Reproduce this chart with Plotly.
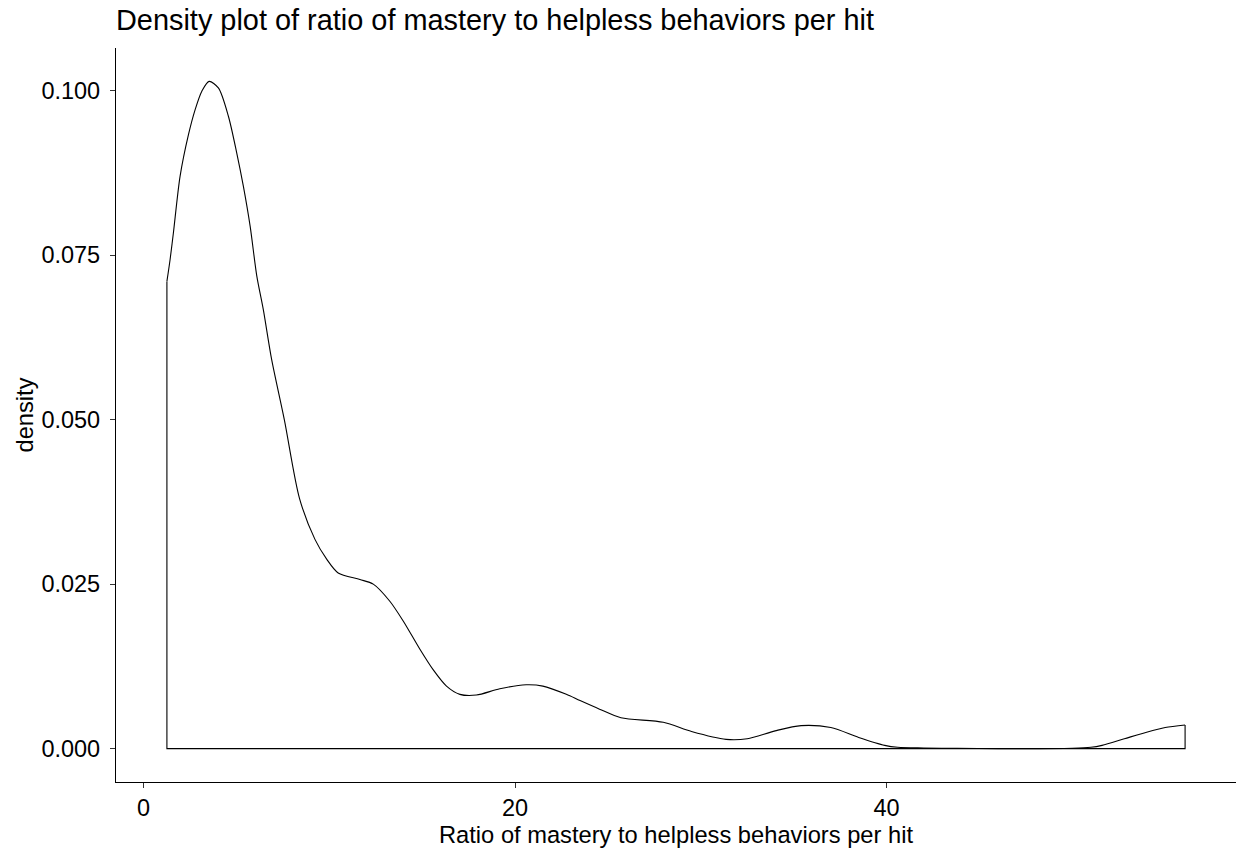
import plotly.graph_objects as go

# Density curve values
ratio = [1.26, 1.43, 1.61, 1.97, 2.42, 2.78, 3.14, 3.53, 4.03, 4.57, 5.02, 5.38, 5.74,
         6.10, 6.45, 6.90, 7.58, 8.40, 9.23, 9.86, 10.48, 11.65, 12.37, 13.26, 13.98,
         14.88, 15.59, 16.31, 17.03, 17.92, 19.18, 20.60, 21.50, 22.76, 23.50, 24.55,
         25.70, 27.98, 29.50, 31.36, 32.50, 34.00, 35.40, 37.00, 38.50, 39.90, 40.60,
         42.00, 43.80, 46.00, 48.00, 50.00, 51.00, 51.60, 52.80, 54.00, 55.00, 56.07]
density = [0.0710, 0.0743, 0.0784, 0.0870, 0.0933, 0.0971, 0.0999, 0.1014, 0.1004,
           0.0961, 0.0905, 0.0854, 0.0794, 0.0718, 0.0667, 0.0591, 0.0500, 0.0380,
           0.0318, 0.0288, 0.0267, 0.0257, 0.0250, 0.0224, 0.0194, 0.0151, 0.0120,
           0.0095, 0.00825, 0.00814, 0.0091, 0.0097, 0.0095, 0.00825, 0.0073, 0.0060,
           0.0047, 0.0040, 0.0026, 0.0014, 0.0015, 0.0027, 0.0035, 0.0032, 0.0017,
           0.0005, 0.0002, 0.0001, 0.00005, 0.0, 0.0, 0.00005, 0.0002, 0.0005, 0.0015,
           0.0025, 0.0032, 0.0036]

x_ticks = [0, 20, 40]
y_ticks = [0.000, 0.025, 0.050, 0.075, 0.100]

title_text = "Density plot of ratio of mastery to helpless behaviors per hit"
x_title = "Ratio of mastery to helpless behaviors per hit"
y_title = "density"

FONT = "Liberation Sans, Arial, sans-serif"

fig = go.Figure()
# smooth density curve
fig.add_trace(go.Scatter(
    x=ratio, y=density, mode="lines",
    line=dict(color="black", width=1.1, shape="spline", smoothing=0.8),
    hoverinfo="skip", showlegend=False))
# closing edges (vertical sides and baseline) of the density polygon
fig.add_trace(go.Scatter(
    x=[ratio[0], ratio[0], ratio[-1], ratio[-1]],
    y=[density[0], 0, 0, density[-1]],
    mode="lines", line=dict(color="black", width=1.1),
    hoverinfo="skip", showlegend=False))

xmin, xmax = min(ratio), max(ratio)
xpad = 0.05 * (xmax - xmin)
ymax = max(density)
ypad = 0.05 * ymax

fig.update_layout(
    width=1238, height=855,
    margin=dict(l=116, r=2, t=48, b=73, autoexpand=False),
    paper_bgcolor="white", plot_bgcolor="white",
    font=dict(family=FONT, color="black"),
    title=dict(text=title_text, font=dict(size=28.9, color="black", family=FONT),
               x=0, xref="paper", xanchor="left",
               y=1 - 10 / 855, yref="container", yanchor="top"),
    xaxis=dict(range=[xmin - xpad, xmax + xpad], tickvals=x_ticks,
               ticktext=[str(v) for v in x_ticks], automargin=False,
               showgrid=False, zeroline=False, showline=True, linecolor="black",
               linewidth=1.2, ticks="outside", ticklen=5, tickwidth=1.2,
               tickcolor="#333333", tickfont=dict(size=23.5, color="black"),
               title=dict(text=x_title, font=dict(size=23.7, color="black"), standoff=6)),
    yaxis=dict(range=[-ypad, ymax + ypad], tickvals=y_ticks,
               ticktext=[f"{v:.3f}" for v in y_ticks], automargin=False,
               ticklabelstandoff=5,
               showgrid=False, zeroline=False, showline=True, linecolor="black",
               linewidth=1.2, ticks="outside", ticklen=5, tickwidth=1.2,
               tickcolor="#333333", tickfont=dict(size=23.5, color="black"),
               title=dict(text=y_title, font=dict(size=23.7, color="black"), standoff=1)),
)

# remove the default page margin so the figure sits at the window's top-left corner
post = ("document.body.style.margin='0';document.body.style.overflow='hidden';"
        "document.documentElement.style.overflow='hidden';")
fig.write_html("out.html", post_script=post, config={"displayModeBar": False})
